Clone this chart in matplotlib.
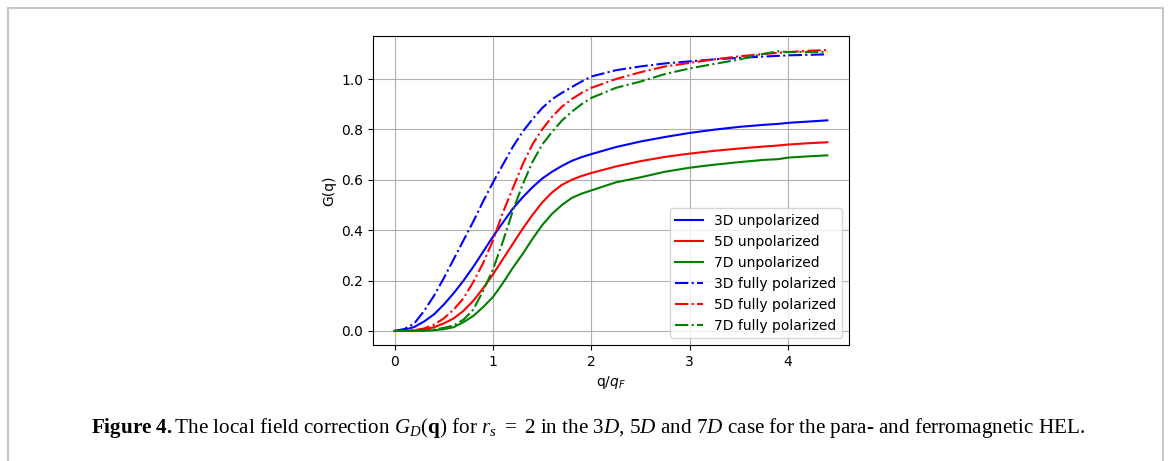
import numpy as np
import matplotlib.pyplot as plt
from matplotlib.patches import Rectangle

plt.rcParams['mathtext.rm'] = 'Liberation Serif'
plt.rcParams['mathtext.it'] = 'Liberation Serif:italic'
plt.rcParams['mathtext.bf'] = 'Liberation Serif:bold'

# q/q_F sampling points
q = [0.0, 0.1, 0.2, 0.3, 0.4, 0.5, 0.6, 0.7, 0.8, 0.9, 1.0,
     1.1, 1.2, 1.3, 1.4, 1.5, 1.6, 1.7, 1.8, 1.9, 2.0,
     2.25, 2.5, 2.75, 3.0, 3.25, 3.5, 3.75, 3.9, 4.0, 4.2, 4.4]

# unpolarized
g3_unpol = [0.0, 0.004, 0.016, 0.038, 0.066, 0.105, 0.15, 0.2, 0.255, 0.315, 0.375,
            0.43, 0.485, 0.53, 0.57, 0.605, 0.632, 0.655, 0.675, 0.69, 0.702,
            0.73, 0.752, 0.77, 0.786, 0.799, 0.81, 0.818, 0.822, 0.826, 0.831, 0.836]
g5_unpol = [0.0, 0.0, 0.002, 0.006, 0.015, 0.03, 0.05, 0.08, 0.12, 0.17, 0.225,
            0.285, 0.345, 0.405, 0.46, 0.51, 0.55, 0.58, 0.6, 0.615, 0.627,
            0.653, 0.674, 0.691, 0.704, 0.715, 0.724, 0.732, 0.736, 0.74, 0.745, 0.749]
g7_unpol = [0.0, 0.0, 0.0, 0.001, 0.003, 0.007, 0.015, 0.035, 0.06, 0.095, 0.135,
            0.19, 0.25, 0.305, 0.365, 0.42, 0.465, 0.5, 0.528, 0.545, 0.558,
            0.59, 0.61, 0.632, 0.648, 0.66, 0.67, 0.679, 0.682, 0.688, 0.693, 0.697]

# fully polarized
g3_pol = [0.0, 0.008, 0.03, 0.08, 0.14, 0.21, 0.285, 0.36, 0.435, 0.515, 0.59,
          0.66, 0.73, 0.79, 0.84, 0.885, 0.92, 0.945, 0.968, 0.99, 1.01,
          1.035, 1.05, 1.062, 1.07, 1.078, 1.084, 1.089, 1.092, 1.094, 1.096, 1.098]
g5_pol = [0.0, 0.0, 0.003, 0.01, 0.025, 0.05, 0.085, 0.13, 0.195, 0.27, 0.36,
          0.47, 0.565, 0.66, 0.74, 0.8, 0.85, 0.89, 0.92, 0.945, 0.965,
          1.0, 1.027, 1.05, 1.064, 1.078, 1.09, 1.099, 1.104, 1.107, 1.112, 1.115]
g7_pol = [0.0, 0.0, 0.0, 0.002, 0.006, 0.012, 0.022, 0.045, 0.085, 0.16, 0.245,
          0.355, 0.475, 0.58, 0.67, 0.74, 0.79, 0.835, 0.87, 0.9, 0.925,
          0.965, 0.99, 1.02, 1.042, 1.06, 1.077, 1.1, 1.11, 1.107, 1.107, 1.108]

fig = plt.figure(figsize=(11.68, 4.61), dpi=100)
ax = fig.add_axes([0.3194, 0.2516, 0.4075, 0.6703])

ax.plot(q, g3_unpol, 'b-', label='3D unpolarized')
ax.plot(q, g5_unpol, 'r-', label='5D unpolarized')
ax.plot(q, g7_unpol, 'g-', label='7D unpolarized')
ax.plot(q, g3_pol, 'b-.', label='3D fully polarized')
ax.plot(q, g5_pol, 'r-.', label='5D fully polarized')
ax.plot(q, g7_pol, 'g-.', label='7D fully polarized')
ax.grid(True)
ax.legend(loc='lower right')
ax.set_xlabel('q/$q_F$')
ax.set_ylabel('G(q)')

# page frame and caption
fig.patches.append(Rectangle((7.5, -20), 1155.5, 473.5, transform=None,
                             fill=False, edgecolor='#c8c8c8', lw=1.5))
fig.text(588 / 1168, 1 - 433 / 461,
         r'$\mathbf{Figure\ 4.}$The local field correction $G_D(\mathbf{q})$ for '
         r'$r_s\ =\ 2$ in the 3$D$, 5$D$ and 7$D$ case for the para- and ferromagnetic HEL.',
         ha='center', va='baseline', fontsize=15.2, family='Liberation Serif',
         math_fontfamily='custom')

fig.savefig('out.png', dpi=100)
